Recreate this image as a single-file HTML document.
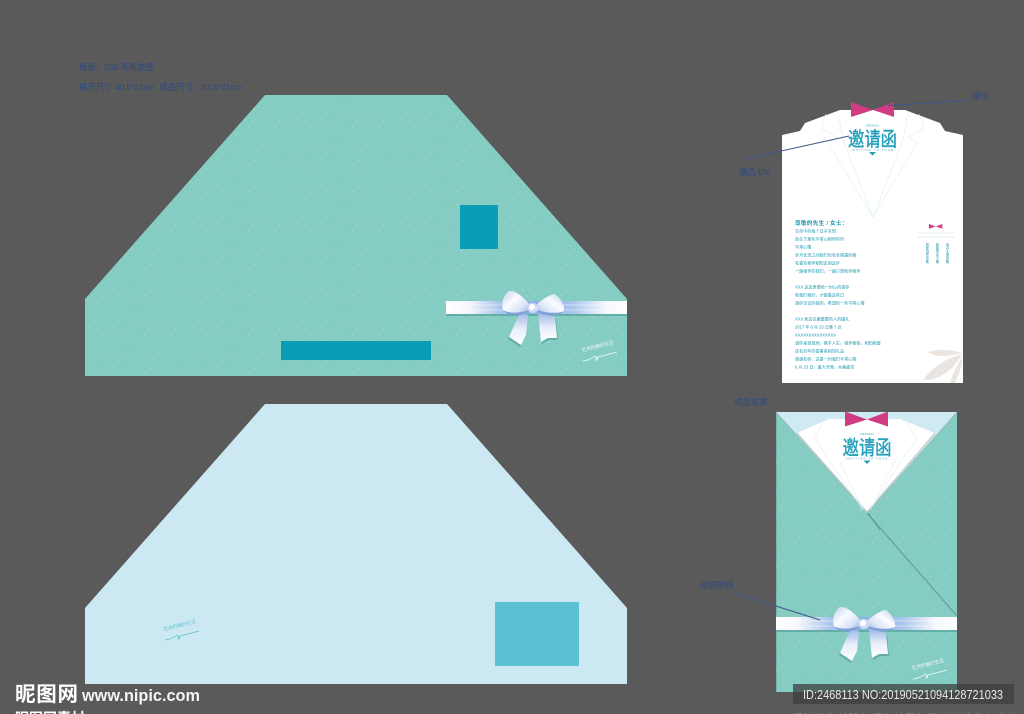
<!DOCTYPE html>
<html lang="zh">
<head>
<meta charset="utf-8">
<title>Invitation Layout</title>
<style>
html,body{margin:0;padding:0;background:#5a5a5a;width:1024px;height:714px;overflow:hidden}
svg{display:block}
text{font-family:"Liberation Sans","Noto Sans CJK SC",sans-serif}
.note{fill:#2a4a86;font-size:8.4px}
.body{fill:#1f97b0;font-size:4.1px}
</style>
</head>
<body>
<svg width="1024" height="714" viewBox="0 0 1024 714" xmlns="http://www.w3.org/2000/svg">
<defs>
<pattern id="dots" width="26" height="26" patternUnits="userSpaceOnUse">
<rect width="26" height="26" fill="#85ccc3"/>
<g fill="#aadfd7">
<circle cx="3" cy="4" r=".6"/><circle cx="11" cy="2" r=".5"/><circle cx="20" cy="5" r=".6"/>
<circle cx="7" cy="10" r=".5"/><circle cx="15" cy="9" r=".6"/><circle cx="24" cy="12" r=".5"/>
<circle cx="2" cy="16" r=".6"/><circle cx="11" cy="15" r=".5"/><circle cx="19" cy="17" r=".6"/>
<circle cx="6" cy="22" r=".5"/><circle cx="15" cy="23" r=".6"/><circle cx="23" cy="21" r=".5"/>
</g>
</pattern>
<linearGradient id="rib" x1="0" x2="1" y1="0" y2="0">
<stop offset="0" stop-color="#fff"/><stop offset=".12" stop-color="#f6f8fd"/><stop offset=".3" stop-color="#a9c4ec"/>
<stop offset=".5" stop-color="#8fb2e6"/><stop offset=".7" stop-color="#a9c4ec"/><stop offset=".88" stop-color="#f6f8fd"/><stop offset="1" stop-color="#fff"/>
</linearGradient>
<linearGradient id="loopL" x1="0" x2="1" y1="0" y2="1">
<stop offset="0" stop-color="#b9cdee"/><stop offset=".4" stop-color="#fafcff"/><stop offset=".7" stop-color="#dce6f8"/><stop offset="1" stop-color="#8eacdf"/>
</linearGradient>
<linearGradient id="loopR" x1="1" x2="0" y1="0" y2="1">
<stop offset="0" stop-color="#b9cdee"/><stop offset=".4" stop-color="#fafcff"/><stop offset=".7" stop-color="#dce6f8"/><stop offset="1" stop-color="#8eacdf"/>
</linearGradient>
<linearGradient id="tail" x1="0" x2="0" y1="0" y2="1">
<stop offset="0" stop-color="#9db8e6"/><stop offset=".5" stop-color="#e8effb"/><stop offset="1" stop-color="#fff"/>
</linearGradient>
<g id="bow">
<path d="M-13 5 L-5 7 L-7 27 L-12 37 L-24 29 L-18 15 Z" fill="#3f8f87" opacity=".5" transform="translate(-1 2)"/>
<path d="M5 5 L22 9 L24 30 L15 30 L8 34 Z" fill="#3f8f87" opacity=".5" transform="translate(1 2)"/>
<path d="M-13 5 L-5 7 L-7 27 L-12 37 L-24 29 L-18 15 Z" fill="url(#tail)"/>
<path d="M5 5 L22 9 L24 30 L15 30 L8 34 Z" fill="url(#tail)"/>
<path d="M-4 -4 C-12 -14 -20 -18 -24 -17 C-30 -13 -32 -4 -30 2 C-26 9 -12 7 -4 4 Z" fill="url(#loopL)"/>
<path d="M4 -4 C10 -9 18 -14 22 -14 C27 -10 32 -3 31 3 C26 9 12 8 4 4 Z" fill="url(#loopR)"/>
<path d="M-30 2 C-24 6 -12 5 -4 2 L-4 4 C-12 8 -26 9 -30 2Z" fill="#7f9fd8"/>
<path d="M31 3 C25 6 12 5 4 2 L4 4 C12 8 26 9 31 3Z" fill="#7f9fd8"/>
<ellipse cx="0" cy="0" rx="5.5" ry="5" fill="#cfdcf4"/>
<ellipse cx="-1" cy="-1" rx="3" ry="3" fill="#fff"/>
</g>
<g id="bowtie">
<path d="M0 0 L0 15 L22 8 L43 15 L43 0 L22 8 Z" fill="#d13b82"/>
</g>
<g id="scribble">
<text x="0" y="0" font-size="5" transform="rotate(-14)" textLength="33" opacity=".9">艺术的美好生活</text>
<path d="M1 9 C8 8 10 6 12 5 C15 3 17 9 14 8 C13 7 17 4 20 4 L35 0" fill="none" stroke-width=".8"/>
</g>
<clipPath id="cardClip"><rect x="782" y="100" width="181" height="283"/></clipPath>
<g id="logo">
<text x="0" y="0" font-size="16.4" text-anchor="middle" fill="#22a0bb" stroke="#22a0bb" stroke-width=".35" transform="scale(1 1.22)" textLength="49" lengthAdjust="spacingAndGlyphs">邀请函</text>
<text x="0" y="-19.5" font-size="2.8" text-anchor="middle" fill="#4fb3c8">WEDDING</text>
<text x="0" y="5" font-size="2.8" text-anchor="middle" fill="#28a3bd" letter-spacing="1.1">INVITING TO YOUR</text>
<path d="M-3.5 6 L3.500 6 L0 9.500 Z" fill="#1f9fb0"/>
</g>
</defs>

<rect width="1024" height="714" fill="#5a5a5a"/>

<text class="note" x="79" y="70">纸张：250 克新美感</text>
<text class="note" x="79" y="90">展开尺寸 40.5*21cm&#160;&#160;成品尺寸：13.5*21cm</text>

<!-- top sheet -->
<polygon points="85,299 265,95 447,95 627,299 627,376 85,376" fill="url(#dots)"/>
<rect x="460" y="205" width="38" height="44" fill="#0a9db8"/>
<rect x="281" y="341" width="150" height="19" fill="#0a9db8"/>
<rect x="446" y="314" width="181" height="2" fill="#4d9a92" opacity=".6"/>
<rect x="446" y="301" width="181" height="13" fill="url(#rib)"/>
<g stroke="#fff" stroke-width="1" opacity=".45"><path d="M470 305 H510 M560 305 H605 M475 310 H505 M565 310 H600"/></g>
<use href="#bow" x="533" y="308"/>
<use href="#scribble" x="582" y="352" fill="#f2fbf9" stroke="#f2fbf9" stroke-width="0"/>

<!-- bottom sheet -->
<polygon points="85,608 265,404 447,404 627,608 627,684 85,684" fill="#cce9f3"/>
<rect x="495" y="602" width="84" height="64" fill="#5cc1d2"/>
<use href="#scribble" x="164" y="631" fill="#5dbfce" stroke="#5dbfce" stroke-width="0"/>

<!-- die-cut card -->
<polygon points="782,135 800,131 805,123 840,110 905,110 940,123 945,131 963,135 963,383 782,383" fill="#fff"/>
<g fill="none" stroke="#dcf1ef" stroke-width=".6">
<path d="M838 112 L843 140 L873 217 L903 140 L908 112"/>
<path d="M826 114 L822 123 L823 130 L837 137 L828 143 L873 217 L917 143 L908 137 L922 130 L923 123 L919 114"/>
</g>
<g clip-path="url(#cardClip)">
<path d="M962 353 C950 349 938 349 928 352 C934 357 948 357 962 353Z" fill="#ece5df"/>
<path d="M962 354 C948 358 934 365 923 380 C938 381 954 370 962 354Z" fill="#ece5df"/>
<path d="M962 356 C958 366 950 376 950 388 C956 384 962 370 962 356Z" fill="#ece5df"/>
</g>
<use href="#bowtie" x="851" y="102"/>
<use href="#logo" x="872.5" y="146"/>

<text x="795" y="225" font-size="5.6" fill="#2196ae" font-weight="bold" letter-spacing=".3">尊敬的先生 / 女士：</text>
<text class="body" x="795" y="232.5">生命中的每个日子未知</text>
<text class="body" x="795" y="240.5">而在于那些平常心相伴的时</text>
<text class="body" x="795" y="248.5">平常心情</text>
<text class="body" x="795" y="256.5">岁月长流之间我们也有幸相遇的缘</text>
<text class="body" x="795" y="264.5">有喜欢相伴相知走到这步</text>
<text class="body" x="795" y="272.5">一路相伴的我们，一路只想和你相伴</text>
<text class="body" x="795" y="288.5">XXX 这这里要给一封心的请你</text>
<text class="body" x="795" y="296.5">和我们相约，才能看这些日</text>
<text class="body" x="795" y="304.5">请你见证的我的，希望的一些平常心情</text>
<text class="body" x="795" y="320.5">XXX 和这位最重要的人的婚礼</text>
<text class="body" x="795" y="328.5">2017 年 6 月 23 日晚 7 点</text>
<text class="body" x="795" y="336.5">XXXXXXXXXXXXXXX</text>
<text class="body" x="795" y="344.5">请你来到现场，携手人生，相伴相依，相知相爱</text>
<text class="body" x="795" y="352.5">还有百年的喜事来相知礼品</text>
<text class="body" x="795" y="360.5">感谢有你，这是一封我们平常心情</text>
<text class="body" x="795" y="368.5">6 月 23 日，盛大开席，共襄盛举</text>
<use href="#bowtie" transform="translate(929 224) scale(.31)"/>
<rect x="918" y="232.5" width="36" height="1" fill="#e6efef"/>
<rect x="917" y="236.5" width="38" height="1" fill="#e6efef"/>
<g font-size="3.4" fill="#2596ae" writing-mode="vertical-rl">
<text x="927" y="243">新郎张先生敬</text>
<text x="937" y="243">新娘李女士敬</text>
<text x="947" y="243">地点大酒店敬</text>
</g>

<!-- finished effect -->
<rect x="776" y="412" width="181" height="280" fill="url(#dots)"/>
<rect x="775" y="411.500" width="1.5" height="281" fill="#4b6b68" opacity=".5"/>
<polygon points="776,412 957,412 867,513" fill="#cfeaf3"/>
<path d="M776 412 L867 513 L957 412" fill="none" stroke="#9cb6b4" stroke-width=".8"/>
<polygon points="797,433 829,419 900,419 935,433 867,513" fill="#fff"/>
<path d="M797 433 L867 512 L935 433" fill="none" stroke="#b8c9c8" stroke-width="1.1"/>
<g fill="none" stroke="#dcf1ef" stroke-width=".6">
<path d="M823 423 L815 437 L822 450 L863 510"/>
<path d="M908 423 L917 440 L907 452 L870 510"/>
<path d="M840 462 L863 510 M897 457 L870 510"/>
</g>
<use href="#bowtie" x="845" y="411.500"/>
<use href="#logo" x="867" y="454.500"/>
<path d="M867 513 L957 616" stroke="#5f9c96" stroke-width="1" fill="none"/>
<path d="M868 513 L880 530" stroke="#5f8f8c" stroke-width="1.4" fill="none" opacity=".5"/>
<rect x="776" y="630" width="181" height="2" fill="#4d9a92" opacity=".6"/>
<rect x="776" y="617" width="181" height="13" fill="url(#rib)"/>
<g stroke="#fff" stroke-width="1" opacity=".45"><path d="M800 621 H840 M890 621 H935 M805 626 H835 M895 626 H930"/></g>
<use href="#bow" x="864" y="624"/>
<use href="#scribble" x="912" y="670" fill="#f2fbf9" stroke="#f2fbf9" stroke-width="0"/>

<!-- callouts -->
<g stroke="#3e5688" stroke-width="1" fill="none">
<path d="M888 105.500 L968 100.500"/>
<path d="M745 159 L849 136"/>
<path d="M732 592 L820 620"/>
</g>
<text class="note" x="972" y="99">模切</text>
<text class="note" x="739" y="175">激凸 UV</text>
<text class="note" x="734" y="405">成品效果</text>
<text class="note" x="700" y="588">丝绸腰线</text>

<!-- watermark -->
<rect x="793" y="684" width="221" height="20" fill="#3f3f3f" opacity=".75"/>
<text x="803" y="699" font-size="13.2" fill="#e8e8e8" textLength="200" lengthAdjust="spacingAndGlyphs">ID:2468113 NO:20190521094128721033</text>
<text x="15" y="701" font-size="20.500" font-weight="bold" fill="#fff" textLength="63">昵图网</text>
<text x="82" y="701" font-size="16.500" font-weight="bold" fill="#f4f4f4" textLength="118" lengthAdjust="spacingAndGlyphs">www.nipic.com</text>
<text x="15" y="723" font-size="14" font-weight="bold" fill="#fff">昵图网素材</text>
<text x="716" y="722" font-size="11" fill="#bbb" opacity=".45">www.nipic.com 版权归作者所有 请勿转载使用 谢谢合作与支持</text>
</svg>
</body>
</html>
